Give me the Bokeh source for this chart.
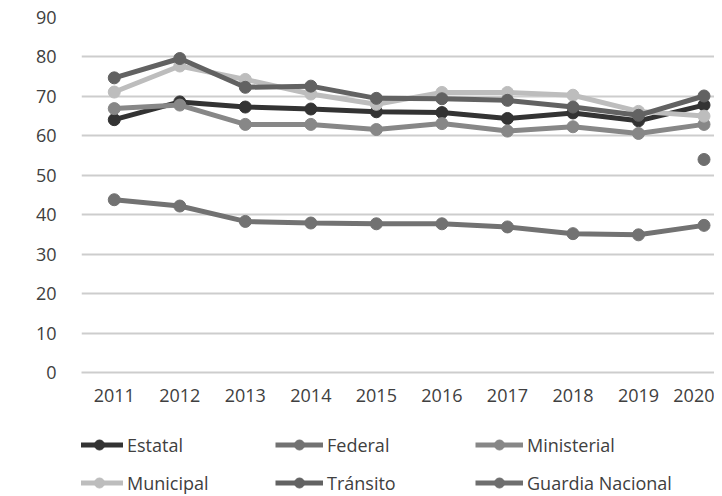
import math
from bokeh.plotting import figure
from bokeh.layouts import column
from bokeh.models import Legend, LegendItem, Label, FixedTicker
from bokeh.embed import file_html
from bokeh.resources import INLINE

years = [2011, 2012, 2013, 2014, 2015, 2016, 2017, 2018, 2019, 2020]
estatal = [64.1, 68.6, 67.3, 66.8, 66.1, 65.9, 64.4, 65.8, 63.8, 67.8]
federal = [43.8, 42.2, 38.3, 37.9, 37.7, 37.7, 36.9, 35.2, 34.9, 37.3]
ministerial = [66.9, 67.8, 62.9, 62.9, 61.6, 63.1, 61.2, 62.3, 60.6, 62.9]
municipal = [71.1, 77.7, 74.3, 70.6, 68.0, 71.0, 71.0, 70.3, 66.2, 65.0]
transito = [74.7, 79.6, 72.3, 72.6, 69.5, 69.4, 69.0, 67.3, 65.2, 70.1]
guardia = [math.nan] * 9 + [54.0]
y_ticks = [0, 10, 20, 30, 40, 50, 60, 70, 80, 90]

series = [
    ("Estatal", estatal, "#333333"),
    ("Federal", federal, "#727272"),
    ("Ministerial", ministerial, "#878787"),
    ("Municipal", municipal, "#bdbdbd"),
    ("Tránsito", transito, "#626262"),
    ("Guardia Nacional", guardia, "#6e6e6e"),
]

FONT = "Open Sans"
TXT = "#404040"
GRID = "#cdcdcd"

p = figure(width=714, height=420, output_backend="svg", toolbar_location=None,
           x_range=(2010.5, 2020.16), y_range=(0, 90),
           min_border_left=81, min_border_top=17, min_border_bottom=48, min_border_right=0)
p.outline_line_color = None

p.xgrid.grid_line_color = None
p.ygrid.grid_line_color = GRID
p.ygrid.grid_line_width = 2
p.ygrid.ticker = FixedTicker(ticks=y_ticks)

p.yaxis.ticker = FixedTicker(ticks=y_ticks)
p.yaxis.axis_line_color = None
p.yaxis.major_tick_line_color = None
p.yaxis.minor_tick_line_color = None
p.yaxis.major_label_standoff = 19
p.yaxis.major_label_text_font = FONT
p.yaxis.major_label_text_font_size = "18px"
p.yaxis.major_label_text_color = TXT

p.xaxis.ticker = FixedTicker(ticks=years)
p.xaxis.axis_line_color = GRID
p.xaxis.axis_line_width = 2
p.xaxis.major_tick_line_color = None
p.xaxis.minor_tick_line_color = None
p.xaxis.major_label_standoff = 10
p.xaxis.major_label_text_font = FONT
p.xaxis.major_label_text_font_size = "18px"
p.xaxis.major_label_text_color = TXT

for name, vals, col in series:
    p.line(years, vals, line_color=col, line_width=5)
    p.scatter(years, vals, size=12, fill_color=col, line_color=col)

p.add_layout(Label(x=2010.5, y=44.5, x_offset=-59, text="%", text_align="center",
                   text_baseline="middle", text_font=FONT, text_font_size="18px",
                   text_color=TXT))

# legend panel below the chart
q = figure(width=714, height=75, output_backend="svg", toolbar_location=None,
           x_range=(0, 1), y_range=(0, 1), x_axis_location=None, y_axis_location=None,
           min_border=0)
q.outline_line_color = None
q.grid.visible = False
items = []
for name, vals, col in series:
    ln = q.line(years, vals, line_color=col, line_width=5)
    sc = q.scatter(years, vals, size=12, fill_color=col, line_color=col)
    items.append(LegendItem(label=name, renderers=[ln, sc]))

legend = Legend(items=items, location=(-6, 0), orientation="horizontal", ncols=3,
                glyph_width=48, glyph_height=25, label_height=25, label_width=135,
                label_standoff=4, spacing=13, padding=0, margin=0,
                label_text_font=FONT, label_text_font_size="18px",
                label_text_color=TXT, label_text_baseline="middle",
                border_line_color=None, background_fill_alpha=0)
q.add_layout(legend)

layout = column(p, q, spacing=0)
open("out.html", "w").write(file_html(layout, INLINE))
